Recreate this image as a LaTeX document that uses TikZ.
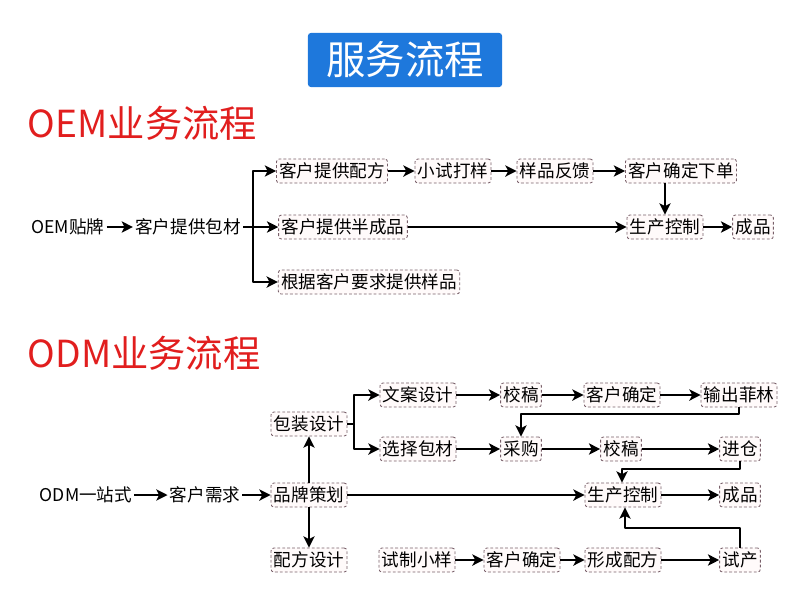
\documentclass[tikz,border=0pt]{standalone}
\usepackage{fontspec}
\setmainfont{Noto Sans CJK SC}
\usetikzlibrary{arrows.meta}
\definecolor{titleblue}{RGB}{30,120,220}
\definecolor{headred}{RGB}{225,30,30}
\definecolor{boxline}{RGB}{120,95,105}
\begin{document}
\begin{tikzpicture}[x=0.025cm,y=-0.025cm,line join=round,>={Stealth[length=8pt,width=8pt,inset=2pt]},line width=1.3pt]
	\tikzset{stepbox/.style={draw=boxline,dashed,dash pattern=on 2pt off 1.5pt,line width=0.6pt,rounded corners=2pt,fill=red!2,inner sep=2pt,minimum height=0.6cm,font=\fontsize{12.5}{14}\selectfont},
		plain/.style={inner sep=1pt,font=\fontsize{12.5}{14}\selectfont},
		head/.style={anchor=west,text=headred,inner sep=0pt,font=\fontsize{26.5}{30}\selectfont}}
	\useasboundingbox (0,0) rectangle (800,600);
	\node[fill=titleblue,rounded corners=2pt,text=white,minimum width=4.85cm,minimum height=1.35cm,font=\fontsize{28}{32}\selectfont] (title) at (405,60) {服务流程};
	\node[head] (oemhead) at (27,123) {OEM业务流程};
	\node[head] (odmhead) at (27,353) {ODM业务流程};
	\node[plain] (oemA) at (68,227) {OEM贴牌};
	\node[plain] (oemB) at (188,227) {客户提供包材};
	\node[stepbox] (o1) at (332,171) {客户提供配方};
	\node[stepbox] (o2) at (453,171) {小试打样};
	\node[stepbox] (o3) at (555,171) {样品反馈};
	\node[stepbox] (o4) at (681,171) {客户确定下单};
	\node[stepbox] (o5) at (343,227) {客户提供半成品};
	\node[stepbox] (o6) at (665,227) {生产控制};
	\node[stepbox] (o7) at (753,227) {成品};
	\node[stepbox] (o8) at (369,282) {根据客户要求提供样品};
	\coordinate (oj) at (253,227);
	\draw[->] (oemA) -- (oemB);
	\draw[->] (oemB) -- (o5);
	\draw[->] (oj) |- (o1);
	\draw[->] (oj) |- (o8);
	\draw[->] (o1) -- (o2);
	\draw[->] (o2) -- (o3);
	\draw[->] (o3) -- (o4);
	\draw[->] (o6.north |- o4.south) -- (o6.north);
	\draw[->] (o5) -- (o6);
	\draw[->] (o6) -- (o7);
	\node[plain] (d0) at (86,495) {ODM一站式};
	\node[plain] (d1) at (205,495) {客户需求};
	\node[stepbox] (p1) at (309,495) {品牌策划};
	\node[stepbox] (p2) at (309,424) {包装设计};
	\node[stepbox] (p3) at (309,560) {配方设计};
	\node[stepbox] (a1) at (418,395) {文案设计};
	\node[stepbox] (a2) at (521,395) {校稿};
	\node[stepbox] (a3) at (622,395) {客户确定};
	\node[stepbox] (a4) at (739,395) {输出菲林};
	\node[stepbox] (b1) at (418,449) {选择包材};
	\node[stepbox] (b2) at (521,449) {采购};
	\node[stepbox] (b3) at (621,449) {校稿};
	\node[stepbox] (b4) at (740,449) {进仓};
	\node[stepbox] (c1) at (623,495) {生产控制};
	\node[stepbox] (c2) at (740,495) {成品};
	\node[stepbox] (e1) at (417,560) {试制小样};
	\node[stepbox] (e2) at (522,560) {客户确定};
	\node[stepbox] (e3) at (623,560) {形成配方};
	\node[stepbox] (e4) at (740,560) {试产};
	\coordinate (pj) at (354,424);
	\coordinate (k1) at (521,414);
	\coordinate (k2) at (622,469);
	\coordinate (k3) at (625,528);
	\draw[->] (d0) -- (d1);
	\draw[->] (d1) -- (p1);
	\draw[->] (p1) -- (c1);
	\draw[->] (c1) -- (c2);
	\draw[->] (p1) -- (p2);
	\draw[->] (p1) -- (p3);
	\draw (p2) -- (pj);
	\draw[->] (pj) |- (a1);
	\draw[->] (pj) |- (b1);
	\draw[->] (a1) -- (a2);
	\draw[->] (a2) -- (a3);
	\draw[->] (a3) -- (a4);
	\draw[->] (b1) -- (b2);
	\draw[->] (b2) -- (b3);
	\draw[->] (b3) -- (b4);
	\draw[->] (a4.south) |- (k1) -- (b2.north);
	\draw[->] (b4.south) |- (k2) -- (c1.north -| k2);
	\draw[->] (e4.north) |- (k3) -- (c1.south -| k3);
	\draw[->] (e1) -- (e2);
	\draw[->] (e2) -- (e3);
	\draw[->] (e3) -- (e4);
\end{tikzpicture}
\end{document}
